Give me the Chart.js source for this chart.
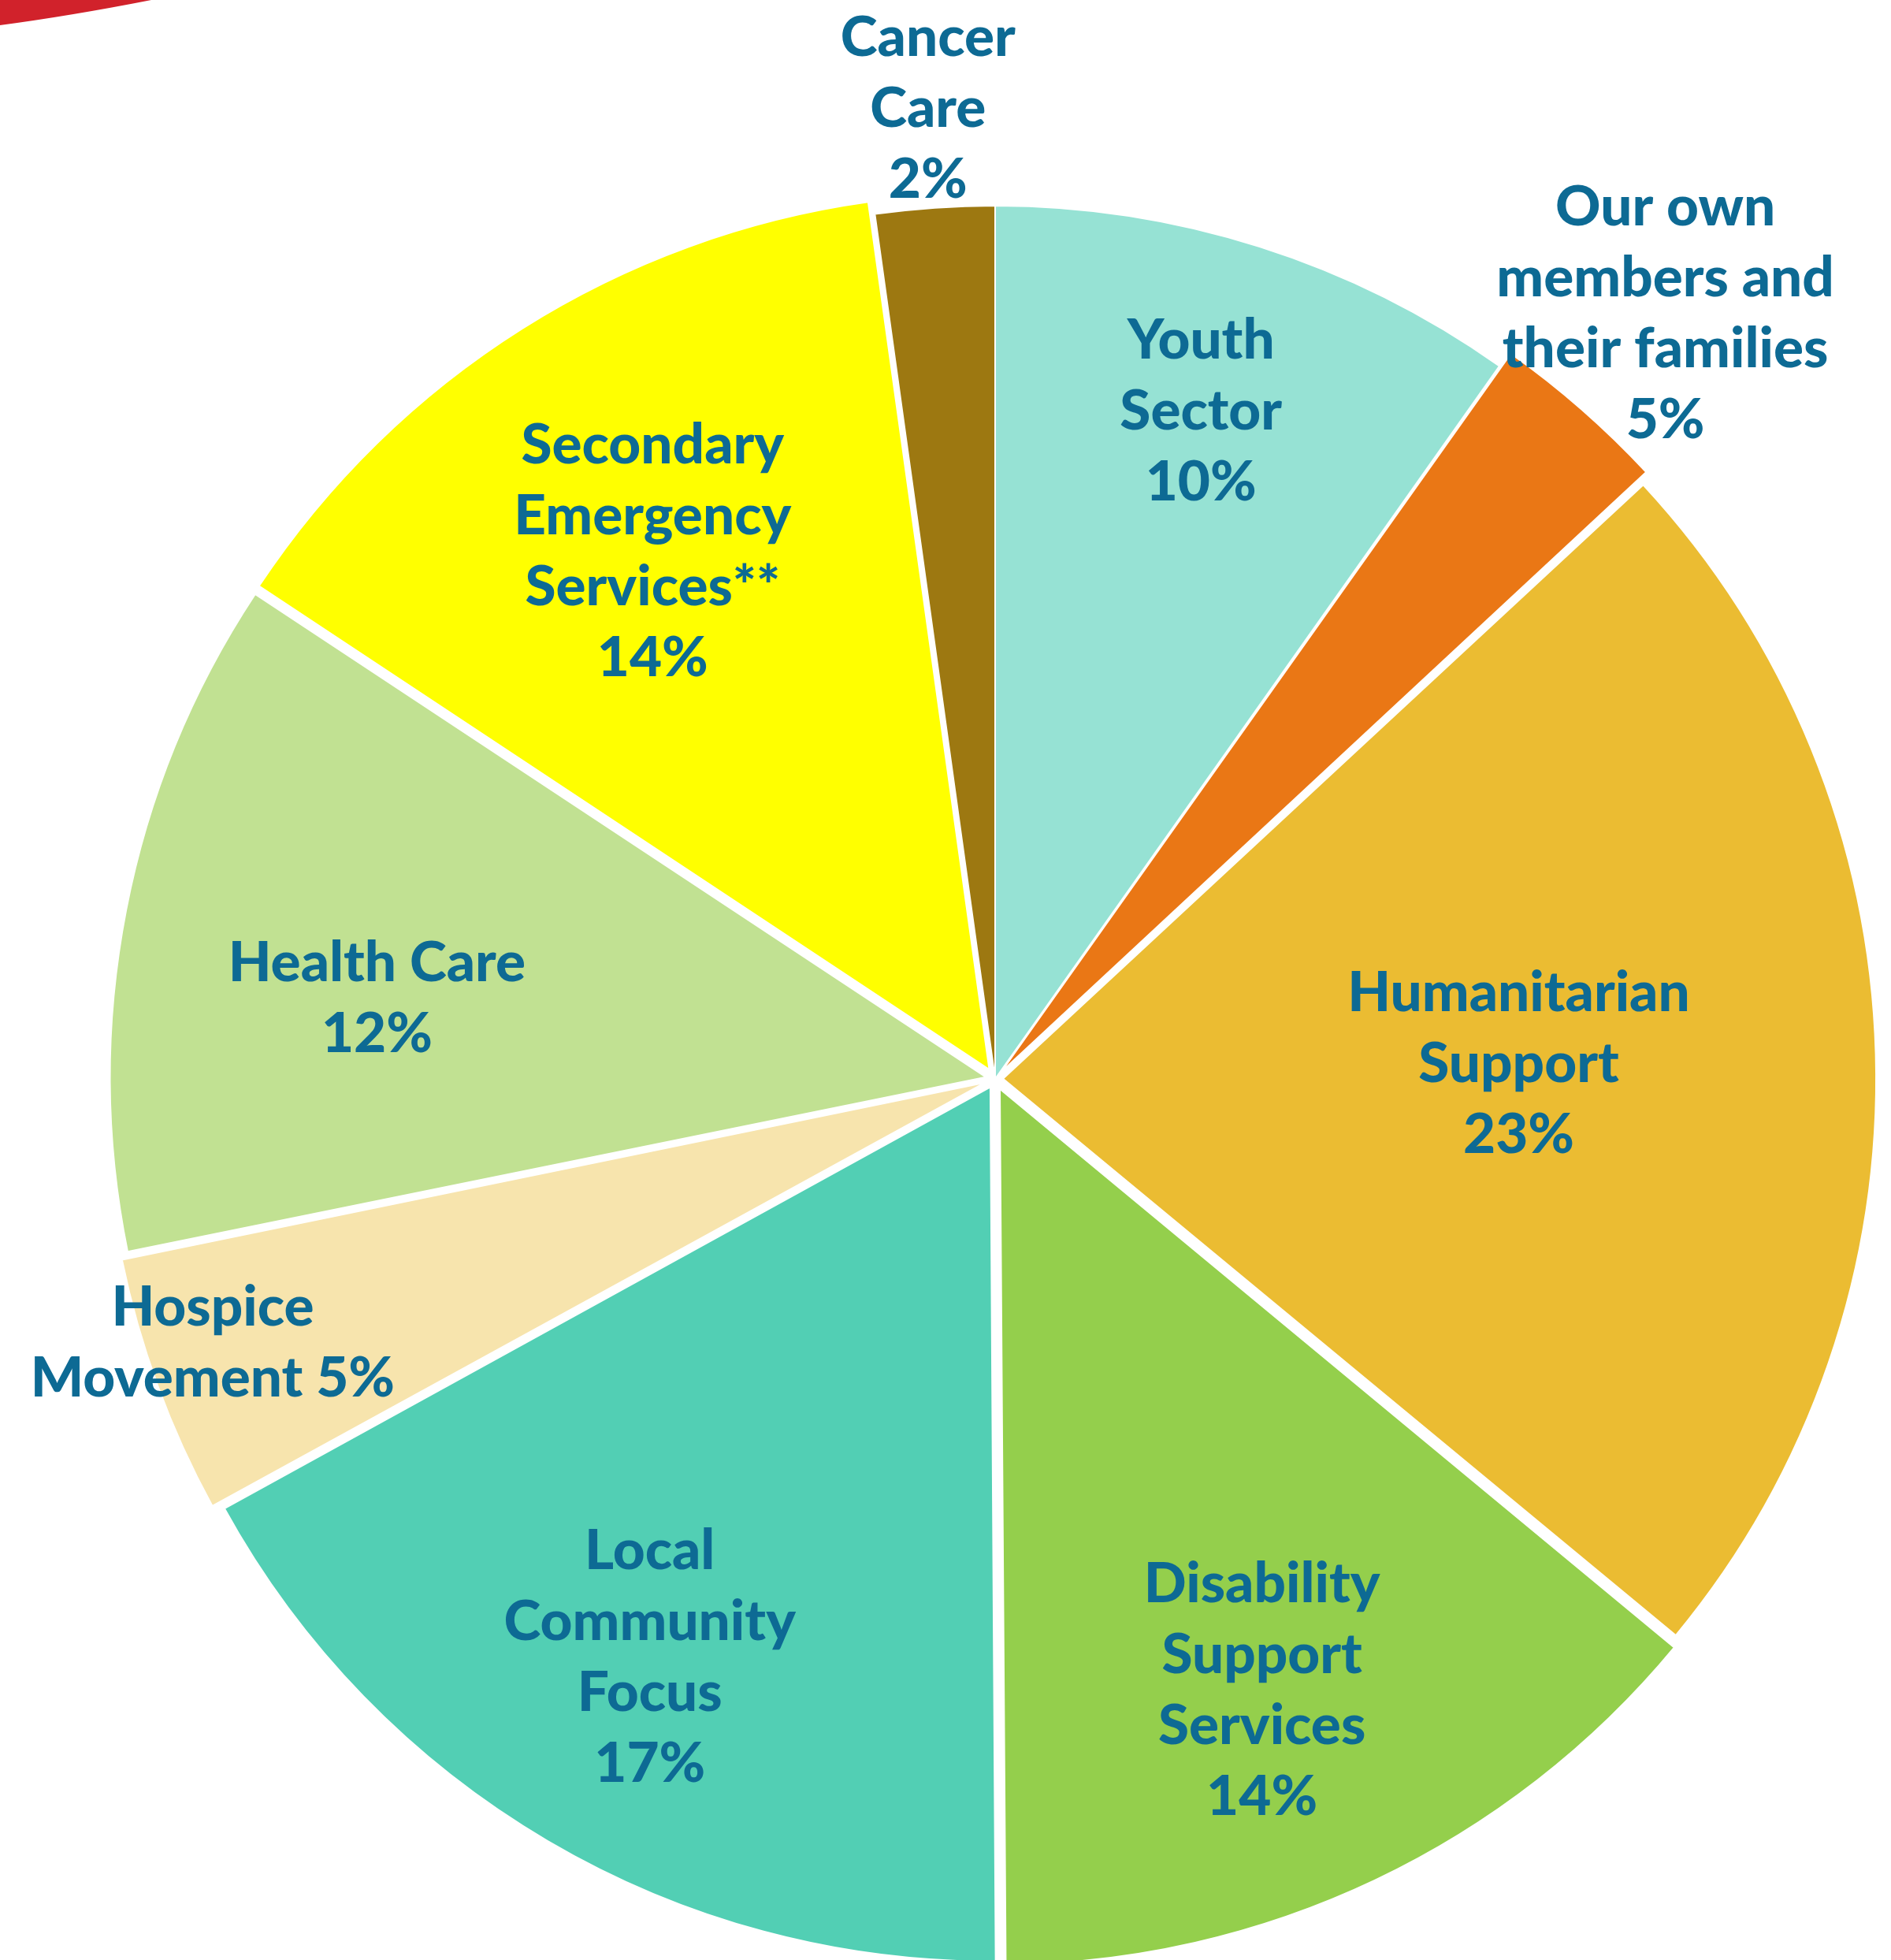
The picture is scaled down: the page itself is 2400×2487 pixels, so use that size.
<!DOCTYPE html>
<html lang="en">
<head>
    <meta charset="UTF-8">
    <title>Donations by sector</title>
    <script src="https://cdn.jsdelivr.net/npm/chart.js@4.4.1/dist/chart.umd.min.js"></script>
    <style>
        html, body { margin: 0; padding: 0; background: #ffffff; }
        #wrap { width: 2400px; height: 2487px; position: relative; overflow: hidden; }
    </style>
</head>
<body>
    <div id="wrap">
        <canvas id="pieChart"></canvas>
    </div>

    <script>
        // slices, clockwise from 12 o'clock
        const categories = ['Youth Sector', 'Our own members and their families', 'Humanitarian Support',
            'Disability Support Services', 'Local Community Focus', 'Hospice Movement', 'Health Care',
            'Secondary Emergency Services**', 'Cancer Care'];
        const shares = [9.8, 3.3, 22.9, 13.9, 17.1, 4.8, 12.5, 13.5, 2.2];
        const pctLabels = ['10%', '5%', '23%', '14%', '17%', '5%', '12%', '14%', '2%'];
        const labelLines = [
            ['Youth', 'Sector', '10%'],
            ['Our own', 'members and', 'their families', '5%'],
            ['Humanitarian', 'Support', '23%'],
            ['Disability', 'Support', 'Services', '14%'],
            ['Local', 'Community', 'Focus', '17%'],
            ['Hospice', 'Movement 5%'],
            ['Health Care', '12%'],
            ['Secondary', 'Emergency', 'Services**', '14%'],
            ['Cancer', 'Care', '2%']
        ];
        const sliceColors = ['#96e2d4', '#ea7715', '#ebbc32', '#94cf4c', '#52cfb4', '#f7e4ad', '#c1e192', '#ffff00', '#9d7811'];
        // explode distance (chart.js divides offset by 4)
        const explode = [0, 48, 40, 56, 48, 56, 48, 56, 0];
        // label placement: distance from centre (fraction of radius), small turn off the mid angle (deg)
        const labelDist = [0.80, 1.165, 0.60, 0.764, 0.772, 0.946, 0.714, 0.72, 1.114];
        const labelTurn = [-0.5, 0, 0, 1.8, 0.4, 1.5, -3.6, -0.8, 0];

        const textColor = '#0d6a94';

        // red swoosh in top left corner (background decoration)
        const cornerDeco = {
            id: 'cornerDeco',
            beforeDraw(chart) {
                const ctx = chart.ctx;
                ctx.save();
                ctx.fillStyle = '#d1222b';
                ctx.beginPath();
                ctx.moveTo(0, 0);
                ctx.lineTo(0, 32);
                ctx.quadraticCurveTo(90, 20, 192, 0);
                ctx.closePath();
                ctx.fill();
                ctx.restore();
            }
        };

        const sliceLabels = {
            id: 'sliceLabels',
            afterDatasetsDraw(chart) {
                const ctx = chart.ctx;
                const meta = chart.getDatasetMeta(0);
                ctx.save();
                ctx.fillStyle = textColor;
                ctx.font = '900 71px Lato';
                ctx.textAlign = 'center';
                ctx.textBaseline = 'middle';
                meta.data.forEach(function (arc, i) {
                    const mid = (arc.startAngle + arc.endAngle) / 2 + labelTurn[i] * Math.PI / 180;
                    const r = arc.outerRadius * labelDist[i];
                    const cx = arc.x + Math.cos(mid) * r;
                    const cy = arc.y + Math.sin(mid) * r;
                    const lines = labelLines[i];
                    const lh = 90;
                    lines.forEach(function (line, k) {
                        ctx.fillText(line, cx, cy + (k - (lines.length - 1) / 2) * lh);
                    });
                });
                ctx.restore();
            }
        };

        const chart = new Chart(document.getElementById('pieChart'), {
            type: 'pie',
            data: {
                labels: categories,
                datasets: [{
                    data: shares,
                    backgroundColor: sliceColors,
                    borderColor: '#ffffff',
                    borderWidth: 2,
                    offset: explode,
                    hoverOffset: 0
                }]
            },
            options: {
                responsive: true,
                maintainAspectRatio: false,
                animation: false,
                devicePixelRatio: 1,
                radius: 1108,
                layout: { padding: { left: 126, top: 251, right: 0, bottom: 0 } },
                plugins: {
                    legend: { display: false },
                    tooltip: { enabled: false }
                },
                events: []
            },
            plugins: [cornerDeco, sliceLabels]
        });
    </script>
</body>
</html>
